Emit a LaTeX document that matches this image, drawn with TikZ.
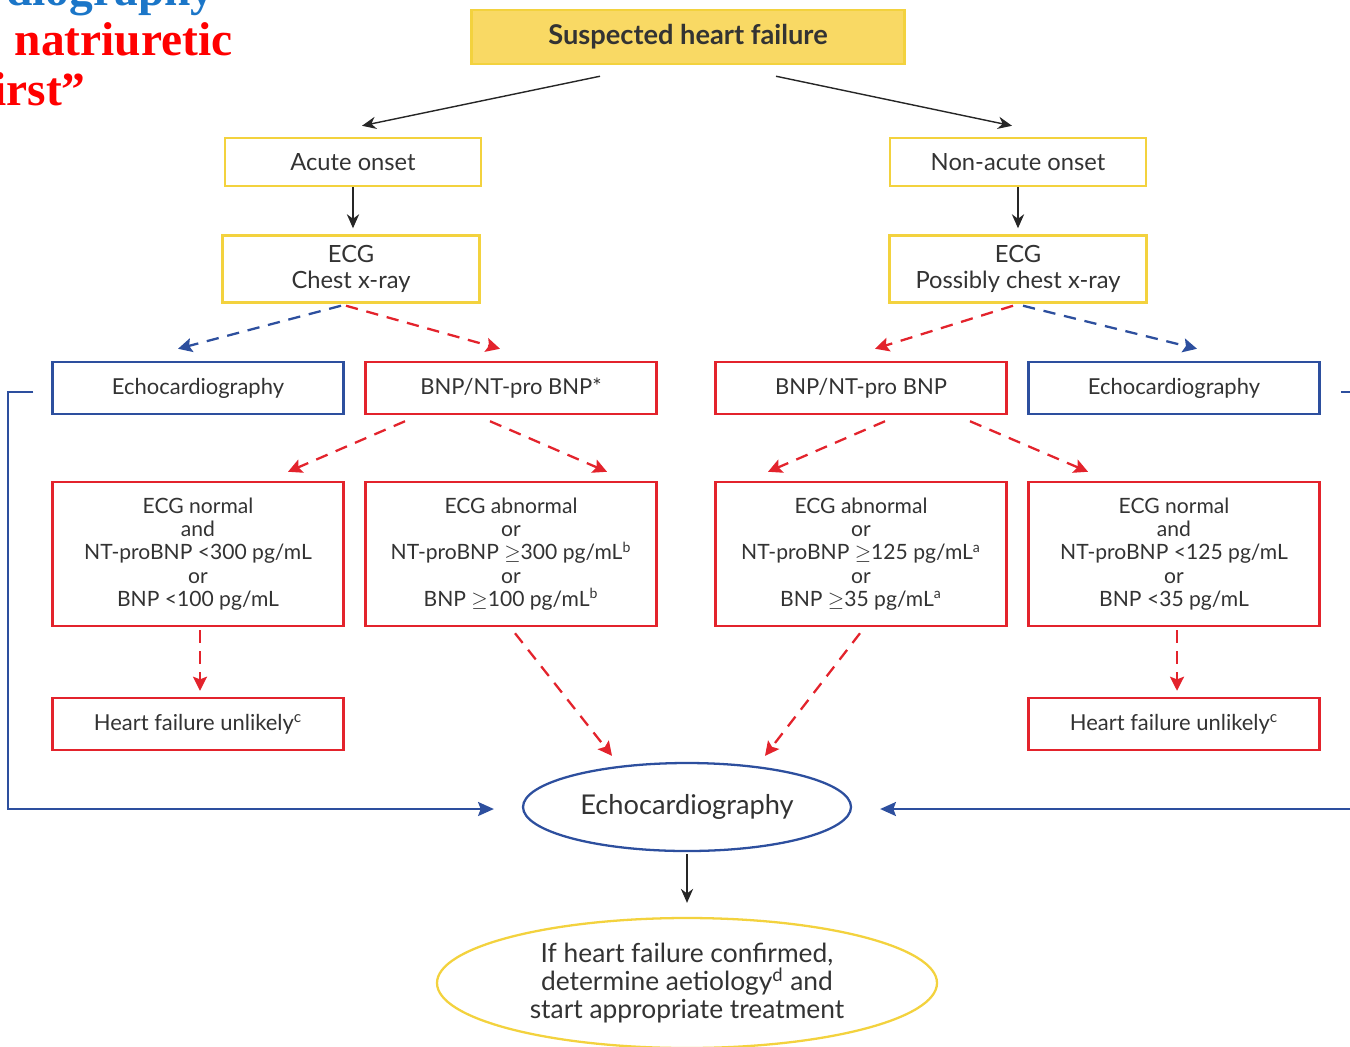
\documentclass[tikz,border=0pt]{standalone}
\usepackage{fontspec}
\setmainfont{Lato}
\newfontfamily\slidefont{Liberation Serif}
\usetikzlibrary{arrows.meta,positioning,calc,shapes.geometric}

\begin{document}
\begin{tikzpicture}[
    ybox/.style={
        draw=hfyellow, line width=1.4pt, fill=white, text=hftext, align=center,
        font=\fontsize{13.5}{14.5}\selectfont, inner sep=2pt
    },
    rbox/.style={
        draw=hfred, line width=1.4pt, fill=white, text=hftext, align=center,
        minimum width=5.82cm, font=\fontsize{12}{13.2}\selectfont, inner sep=2pt
    },
    bbox/.style={
        draw=hfblue, line width=1.4pt, fill=white, text=hftext, align=center,
        minimum width=5.82cm, minimum height=1.04cm, font=\fontsize{12.5}{13.2}\selectfont
    },
    karr/.style={-{Stealth[length=8pt,width=7pt]}, line width=0.8pt, black!85},
    rarr/.style={-{Stealth[length=8pt,width=8pt,inset=1.5pt]}, line width=1.3pt, hfred,
        dash pattern=on 7pt off 5pt},
    barr/.style={-{Stealth[length=8pt,width=8pt,inset=1.5pt]}, line width=1.3pt, hfblue,
        dash pattern=on 7pt off 5pt},
    fbarr/.style={-{Stealth[length=9pt,width=8pt,inset=1.5pt]}, line width=1.1pt, hfblue},
    slide/.style={font=\slidefont\bfseries\fontsize{27}{30}\selectfont, anchor=east, inner sep=0pt}
]

% Colours of the chart
\definecolor{hfred}{HTML}{E3232C}
\definecolor{hfblue}{HTML}{2D4F9E}
\definecolor{hfyellow}{HTML}{F3D23E}
\definecolor{hffill}{HTML}{F9D964}
\definecolor{hftext}{HTML}{333333}
\definecolor{slideblue}{HTML}{1B76C8}
\definecolor{slidered}{HTML}{FF0000}

\useasboundingbox (0,0) rectangle (27,-20.92);

% Cut-off slide title (top left)
\node[slide, text=slideblue] (sl1) at (4.3,0.12) {echocardiography};
\node[slide, text=slidered] (sl2) at (4.66,-0.78) {natriuretic};
\node[slide, text=slidered] (sl3) at (1.72,-1.78) {first”};

% Top of the chart
\node[ybox, fill=hffill, minimum width=8.66cm, minimum height=1.08cm,
      font=\bfseries\fontsize{15.5}{17}\selectfont] (susp) at (13.76,-0.74) {Suspected heart failure};

\node[ybox, minimum width=5.12cm, minimum height=0.96cm] (acute) at (7.06,-3.24) {Acute onset};
\node[ybox, minimum width=5.12cm, minimum height=0.96cm] (nonac) at (20.36,-3.24) {Non-acute onset};

\node[ybox, minimum width=5.14cm, minimum height=1.34cm] (ecgL) at (7.02,-5.38) {ECG\\Chest x-ray};
\node[ybox, minimum width=5.14cm, minimum height=1.34cm] (ecgR) at (20.36,-5.38) {ECG\\Possibly chest x-ray};

% Second row
\node[bbox] (echoL) at (3.96,-7.76) {Echocardiography};
\node[rbox, minimum height=1.04cm, font=\fontsize{12.5}{13.2}\selectfont] (bnpL) at (10.22,-7.76) {BNP/NT-pro BNP*};
\node[rbox, minimum height=1.04cm, font=\fontsize{12.5}{13.2}\selectfont] (bnpR) at (17.22,-7.76) {BNP/NT-pro BNP};
\node[bbox] (echoR) at (23.48,-7.76) {Echocardiography};

% Third row
\node[rbox, minimum height=2.88cm] (normL) at (3.96,-11.08)
    {ECG normal\\and\\NT-proBNP <300 pg/mL\\or\\BNP <100 pg/mL};
\node[rbox, minimum height=2.88cm] (abnL) at (10.22,-11.08)
    {ECG abnormal\\or\\NT-proBNP $\geq$300 pg/mL\textsuperscript{b}\\or\\BNP $\geq$100 pg/mL\textsuperscript{b}};
\node[rbox, minimum height=2.88cm] (abnR) at (17.22,-11.08)
    {ECG abnormal\\or\\NT-proBNP $\geq$125 pg/mL\textsuperscript{a}\\or\\BNP $\geq$35 pg/mL\textsuperscript{a}};
\node[rbox, minimum height=2.88cm] (normR) at (23.48,-11.08)
    {ECG normal\\and\\NT-proBNP <125 pg/mL\\or\\BNP <35 pg/mL};

% Heart failure unlikely
\node[rbox, minimum height=1.04cm, font=\fontsize{12.5}{13.2}\selectfont] (hfL) at (3.96,-14.48) {Heart failure unlikely\textsuperscript{c}};
\node[rbox, minimum height=1.04cm, font=\fontsize{12.5}{13.2}\selectfont] (hfR) at (23.48,-14.48) {Heart failure unlikely\textsuperscript{c}};

% Ellipses at the bottom
\node[ellipse, draw=hfblue, line width=1.3pt, text=hftext, minimum width=6.56cm, minimum height=1.76cm,
      inner sep=0pt, font=\fontsize{15.5}{17}\selectfont] (echo) at (13.74,-16.14) {Echocardiography};
\node[ellipse, draw=hfyellow, line width=1.3pt, text=hftext, minimum width=10cm, minimum height=2.6cm,
      align=center, inner sep=0pt, font=\fontsize{15}{16}\selectfont] (treat) at (13.74,-19.66)
    {If heart failure confirmed,\\determine aetiology\textsuperscript{d} and\\start appropriate treatment};

% Black arrows
\draw[karr] ($(susp.south)+(-1.76,-0.22)$) -- ($(acute.north)+(0.18,0.22)$);
\draw[karr] ($(susp.south)+(1.76,-0.22)$) -- ($(nonac.north)+(-0.12,0.22)$);
\draw[karr] (acute.south) -- (acute.south |- ecgL.north) [shorten >=0.12cm];
\draw[karr] (nonac.south) -- (nonac.south |- ecgR.north) [shorten >=0.12cm];
\draw[karr, shorten <=0.04cm, shorten >=0.28cm] (echo.south) -- (treat.north);

% Dashed arrows from the ECG boxes
\draw[barr] ($(ecgL.south)+(-0.2,-0.04)$) -- ($(echoL.north)+(-0.4,0.24)$);
\draw[rarr] ($(ecgL.south)+(-0.1,-0.04)$) -- ($(bnpL.north)+(-0.22,0.24)$);
\draw[rarr] ($(ecgR.south)+(-0.1,-0.04)$) -- ($(bnpR.north)+(0.28,0.24)$);
\draw[barr] ($(ecgR.south)+(0.1,-0.04)$) -- ($(echoR.north)+(0.46,0.24)$);

% Dashed arrows from the BNP boxes
\draw[rarr] ($(bnpL.south)+(-2.12,-0.12)$) -- ($(normL.north)+(1.8,0.18)$);
\draw[rarr] ($(bnpL.south)+(-0.42,-0.12)$) -- ($(abnL.north)+(1.92,0.18)$);
\draw[rarr] ($(bnpR.south)+(0.48,-0.12)$) -- ($(abnR.north)+(-1.86,0.18)$);
\draw[rarr] ($(bnpR.south)+(2.18,-0.12)$) -- ($(normR.north)+(-1.72,0.18)$);

% Normal results -> heart failure unlikely
\draw[rarr, shorten <=0.06cm, shorten >=0.12cm] ($(normL.south)+(0.04,0)$) -- ($(hfL.north)+(0.04,0)$);
\draw[rarr, shorten <=0.06cm, shorten >=0.12cm] ($(normR.south)+(0.06,0)$) -- ($(hfR.north)+(0.06,0)$);

% Abnormal results -> echocardiography
\draw[rarr] ($(abnL.south)+(0.08,-0.12)$) -- ($(echo.north)+(-1.5,0.12)$);
\draw[rarr] ($(abnR.south)+(-0.02,-0.12)$) -- ($(echo.north)+(1.56,0.12)$);

% Blue lines round the sides
\draw[fbarr] ($(echoL.west)+(-0.36,-0.08)$) -- ++(-0.5,0) |- ($(echo.west)+(-0.56,-0.04)$);
\draw[fbarr] ($(echoR.east)+(0.4,-0.08)$) -- ++(0.5,0) |- ($(echo.east)+(0.56,-0.04)$);

\end{tikzpicture}
\end{document}
